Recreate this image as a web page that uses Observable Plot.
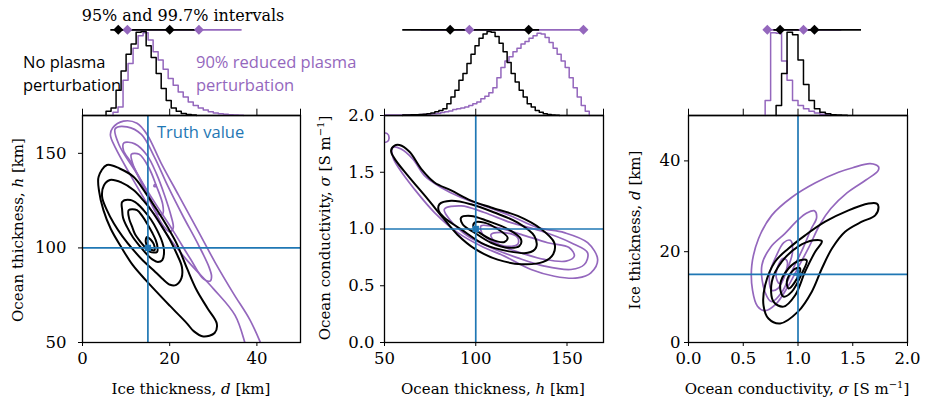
<!DOCTYPE html>
<html><head><meta charset="utf-8">
<script src="https://cdn.jsdelivr.net/npm/d3@7"></script>
<script src="https://cdn.jsdelivr.net/npm/@observablehq/plot@0.6"></script>
<style>
body{margin:0;background:#fff;}
#fig{position:relative;width:929px;height:405px;overflow:hidden;background:#fff;}
.lbl{position:absolute;white-space:nowrap;font-family:"DejaVu Serif",serif;font-size:15px;color:#000;transform:translate(-50%,-50%);}
.title{font-size:16px;}
.rot{transform:translate(-50%,-50%) rotate(-90deg);}
.sans{position:absolute;white-space:nowrap;font-family:"Open Sans",sans-serif;font-size:16.5px;line-height:23px;}
sup{font-size:10px;line-height:0;}
</style></head><body><div id="fig"></div>
<script>
// ---------- data ----------
// histograms: bin start, bin width, normalized heights
const h1BlackStart = 5.4, h1BlackWidth = 1.15;
const h1Black = [0.05,0.09,0.3,0.53,0.73,0.85,0.99,1.0,0.83,0.69,0.5,0.32,0.18,0.09,0.05,0.025,0.012,0.005];
const h1PurpleStart = 7.0, h1PurpleWidth = 1.15;
const h1Purple = [0.04,0.1,0.42,0.62,0.8,0.95,0.985,0.9,0.76,0.66,0.55,0.44,0.36,0.28,0.22,0.16,0.12,0.09,0.065,0.045,0.03,0.02,0.015,0.01,0.006,0.003];

const h2BlackStart = 60, h2BlackWidth = 2.2;
const h2Black = [0.005,0.005,0.008,0.01,0.012,0.015,0.02,0.03,0.045,0.06,0.08,0.14,0.22,0.3,0.42,0.5,0.62,0.73,0.83,0.92,0.97,1.0,0.99,0.94,0.86,0.76,0.63,0.5,0.4,0.3,0.22,0.14,0.1,0.06,0.04,0.02,0.012,0.006,0.003];
const h2PurpleStart = 50, h2PurpleWidth = 2.2;
const h2Purple = [0.005,0.005,0.005,0.006,0.006,0.007,0.008,0.009,0.01,0.012,0.014,0.017,0.02,0.025,0.035,0.045,0.055,0.07,0.08,0.09,0.1,0.12,0.14,0.16,0.2,0.23,0.27,0.33,0.45,0.57,0.65,0.7,0.76,0.8,0.85,0.88,0.92,0.95,0.98,0.97,0.93,0.87,0.8,0.73,0.65,0.57,0.45,0.33,0.22,0.12,0.05];

const h3BlackStart = 0.80, h3BlackWidth = 0.05;
const h3Black = [0.12,0.5,0.99,0.96,0.66,0.37,0.18,0.08,0.04,0.02,0.01,0.005,0.003];
const h3PurpleStart = 0.70, h3PurpleWidth = 0.05;
const h3Purple = [0.18,0.985,0.98,0.65,0.42,0.18,0.12,0.08,0.05,0.03,0.015,0.008];

// 95% (diamonds) and 99.7% (line) intervals
const i1BlackLine = [6.5, 26], i1BlackDiamonds = [8.2, 20.0];
const i1PurpleLine = [8, 36.6], i1PurpleDiamonds = [10.3, 26.7];
const i2BlackLine = [60, 135], i2BlackDiamonds = [86, 129];
const i2PurpleLine = [70, 159.5], i2PurpleDiamonds = [96.5, 159];
const i3BlackLine = [0.78, 1.58], i3BlackDiamonds = [0.837, 1.15];
const i3PurpleLine = [0.72, 1.4], i3PurpleDiamonds = [0.72, 1.05];

// truth values
const truth1 = [15, 100], truth2 = [100, 1.0], truth3 = [1.0, 15];

// contour lines [x, y]
const c1Black = [
  [[3.7,137.6],[5.6,143.8],[8.5,142],[11.7,137.6],[14.5,129],[17.1,120],[19.5,111],[21.6,102.3],[24,89],[26.2,77.6],[28.7,68],[30.8,60],[30.3,55],[27.7,53.2],[25.5,56],[24,60],[20,69.5],[14.5,83],[11.5,91],[9,100],[6.5,110],[4.8,120],[3.8,130]],
  [[6.3,135.9],[9,134.5],[11.7,130.6],[14,125],[16.3,118.2],[18.3,111],[20.1,104.1],[21.8,96],[22.8,89.9],[22.7,84],[21.5,80.5],[20.1,80.5],[18.2,84],[16.3,88.2],[13.8,93.5],[11.7,98.8],[9.2,106],[7.2,112.9],[5.6,120],[4.5,127],[4.9,133]],
  [[9.1,124.4],[11,125.3],[12.6,123.3],[14,120],[15.7,115],[17.1,109.4],[18.3,103],[18.7,98.8],[18.3,93.6],[17.3,92.6],[16.3,93.5],[14.8,96.5],[13.3,100.5],[11.6,105.5],[10.2,111.1],[9.3,116],[9.1,120]],
  [[10.6,120],[12.5,120],[13.8,116.5],[14.8,112.9],[16,108],[16.8,104.1],[17.2,100.5],[17.1,97.9],[15.5,97.9],[14.3,100.5],[13.3,103.2],[12,107.5],[11.4,111.1],[10.7,115.5]],
  [[14.8,105.8],[16.3,102.3],[16.5,98.8],[15.2,99.7],[14.5,103.2]]
];
const c1Purple = [
  [[6.4,159.7],[6.9,163.4],[9.4,167],[12.5,165.9],[14.8,160],[18,145],[22,128],[26.5,109],[30.5,92],[34.6,76],[38.4,62],[40.8,50],[42.5,40],[39,37],[37.5,48],[35,64.3],[30,78.5],[24.3,92.6],[20,105],[15.5,120.9],[11,138.5],[7.6,152.7]],
  [[7.5,163],[10.2,164],[13.5,160],[16.5,148],[19.5,133],[23,117],[26.5,102],[29,90],[29.6,85],[29.3,82.5],[27.8,83.5],[24.8,94],[20.8,109],[16.3,125],[12,141],[8.4,154.4]],
  [[9.5,155.5],[12,155],[14.8,149],[17,139],[18.8,128],[20.3,117],[20.8,110.5],[20,108.5],[18.6,111.5],[16.5,120],[14,132],[11.2,145],[9.4,151.5]],
  [[11.2,149.5],[13,149.5],[15.2,142.5],[16.9,133],[18.4,123],[18.4,118],[17.2,118],[15.6,126],[13.6,135],[11.6,144]],
  [[16.5,133.4],[16.9,133.1],[16.8,132.4],[16.4,132.6]]
];
const c2Black = [
  [[55.5,1.735],[58.2,1.74],[63.7,1.68],[70.1,1.53],[77.4,1.41],[86.5,1.34],[97.4,1.25],[108.4,1.19],[123,1.115],[135.8,1.0],[143,0.88],[142.5,0.78],[137,0.71],[125,0.69],[112,0.73],[100,0.82],[90,0.95],[82,1.1],[73.7,1.263],[62.8,1.47],[55.5,1.62],[53.6,1.69]],
  [[80.1,1.218],[86.5,1.248],[97.4,1.218],[110.2,1.145],[123,1.056],[132.1,0.938],[133,0.835],[128.5,0.79],[117.5,0.805],[104.7,0.864],[92,0.997],[82.8,1.1],[79.7,1.16]],
  [[92,1.1],[97.4,1.115],[106.6,1.07],[117.5,1.0],[124.8,0.909],[123.9,0.85],[117.5,0.835],[108.4,0.879],[99.3,0.968],[92.9,1.04]],
  [[99.3,1.056],[104.7,1.056],[112,1.0],[117.5,0.923],[115.7,0.885],[108.4,0.909],[102,0.968],[98.9,1.01]]
];
const c2Purple = [
  [[54.6,1.72],[59.1,1.705],[65.5,1.617],[71.9,1.47],[81,1.366],[92,1.277],[104.7,1.204],[119.3,1.115],[133.9,1.012],[148.5,0.968],[161.3,0.879],[166.8,0.73],[163.1,0.614],[155.8,0.569],[143.1,0.584],[130.3,0.643],[115.7,0.761],[102.9,0.85],[90.1,0.968],[77.4,1.145],[66.4,1.351],[58.2,1.528],[54.6,1.631]],
  [[82.8,1.174],[92,1.204],[104.7,1.145],[119.3,1.056],[135.8,0.982],[152.2,0.879],[161.3,0.79],[159.5,0.687],[152.2,0.643],[137.6,0.673],[123,0.746],[108.4,0.835],[95.6,0.938],[85.6,1.086]],
  [[102.9,1.027],[112,1.012],[124.8,0.953],[139.4,0.879],[151.3,0.835],[154,0.761],[149.5,0.717],[137.6,0.732],[124.8,0.79],[112,0.864],[103.8,0.953]],
  [[108.4,0.953],[115.7,0.968],[123,0.923],[123,0.864],[115.7,0.85],[110.2,0.894]],
  [[49.5,1.84],[51.5,1.84],[52.5,1.8],[51.5,1.77],[49.5,1.77]]
];
const c3Black = [
  [[1.735,29.9],[1.705,28],[1.583,26.6],[1.43,24.4],[1.31,20.7],[1.218,16.3],[1.126,11.2],[1.0,6.8],[0.837,4.2],[0.73,5.3],[0.685,8.2],[0.7,12.6],[0.79,17.8],[0.913,20.7],[1.065,23.6],[1.248,26.6],[1.461,29.1],[1.644,30.6],[1.72,30.6]],
  [[1.218,22.3],[1.157,20],[1.065,15.6],[0.974,10.4],[0.868,7.9],[0.776,9],[0.761,13.4],[0.852,17.8],[1.0,21.1],[1.142,22.5]],
  [[1.08,18.1],[1.035,15.2],[0.944,11.2],[0.868,10.1],[0.837,12.6],[0.913,16.3],[1.02,18.1]],
  [[1.02,16.3],[0.974,13.4],[0.913,11.9],[0.898,13.4],[0.944,15.6],[0.99,16.4]]
];
const c3Purple = [
  [[0.578,17],[0.585,11.5],[0.63,8],[0.7,7],[0.8,8.5],[0.9,12],[1.0,16.5],[1.1,21],[1.2,26],[1.3,29.5],[1.45,33],[1.62,35.8],[1.73,37.8],[1.735,38.7],[1.66,39.4],[1.5,38.5],[1.37,37.5],[1.16,35.2],[0.944,32],[0.76,28],[0.64,22.9]],
  [[0.67,17],[0.7,11],[0.76,9],[0.85,11],[0.95,16],[1.05,21],[1.12,25],[1.17,27.5],[1.15,29],[1.08,28.5],[1.0,27],[0.88,24],[0.75,21]],
  [[0.74,15],[0.76,11.5],[0.82,12],[0.9,16],[0.95,20],[0.93,22.5],[0.87,22],[0.8,19]],
  [[0.8,14.5],[0.83,13],[0.88,15],[0.9,18],[0.86,18.5],[0.82,17]]
];

// ticks
const t1x = [0,20,40], t1y = [50,100,150], t1hist = [0,20,40,50];
const t2x = [50,100,150], t2y = [0,0.5,1.0,1.5,2.0], t2hist = [50,100,150,170];
const t3x = [0,0.5,1.0,1.5,2.0], t3y = [0,20,40], t3hist = [0,0.5,1.0,1.5,2.0];

// ---------- drawing ----------
const BLACK = "#000000", PURPLE = "#9467bd", BLUE = "#1f77b4";
const SERIF = "DejaVu Serif";
const fig = document.getElementById("fig");
const STYLE = {background: "transparent", color: "#000", overflow: "visible"};

function place(svg, left, top) {
  svg.style.position = "absolute";
  svg.style.left = left + "px";
  svg.style.top = top + "px";
  svg.style.maxWidth = "none";
  fig.appendChild(svg);
}
function steps(start, width, values) {
  const pts = [[start, 0]];
  values.forEach((v, i) => pts.push([start + i * width, v]));
  pts.push([start + values.length * width, 0]);
  return pts;
}
const fx = d => d[0], fy = d => d[1];
const IY = 1.02;

function histPlot(p) {
  const marks = [
    Plot.line(steps(p.ps, p.pw, p.pv), {x: fx, y: fy, curve: "step-after", stroke: PURPLE, strokeWidth: 1.5}),
    Plot.line(steps(p.bs, p.bw, p.bv), {x: fx, y: fy, curve: "step-after", stroke: BLACK, strokeWidth: 1.5}),
    Plot.ruleY([0], {stroke: BLACK, strokeWidth: 1.3}),
    Plot.ruleX(p.ticks, {y1: 0, y2: 0.075, stroke: BLACK, strokeWidth: 1}),
    Plot.ruleY([IY], {x1: p.pl[0], x2: p.pl[1], stroke: PURPLE, strokeWidth: 1.8}),
    Plot.ruleY([IY], {x1: p.bl[0], x2: p.bl[1], stroke: BLACK, strokeWidth: 1.8}),
    Plot.dot(p.pd, {x: d => d, y: () => IY, symbol: "diamond2", r: 4.5, fill: PURPLE, stroke: "none"}),
    Plot.dot(p.bd, {x: d => d, y: () => IY, symbol: "diamond2", r: 4.5, fill: BLACK, stroke: "none"})
  ];
  return Plot.plot({
    width: p.w + 20, height: 116, marginLeft: 10, marginRight: 10, marginTop: 31, marginBottom: 1,
    x: {domain: p.xd, axis: null}, y: {domain: [0, 1], axis: null},
    style: STYLE, marks
  });
}

function contourPlot(p) {
  const marks = [];
  p.purple.forEach(c => marks.push(Plot.line(c, {x: fx, y: fy, curve: "catmull-rom-closed", stroke: PURPLE, strokeWidth: 1.7, clip: true})));
  p.black.forEach(c => marks.push(Plot.line(c, {x: fx, y: fy, curve: "catmull-rom-closed", stroke: BLACK, strokeWidth: 2, clip: true})));
  marks.push(Plot.ruleX([p.truth[0]], {stroke: BLUE, strokeWidth: 1.7}));
  marks.push(Plot.ruleY([p.truth[1]], {stroke: BLUE, strokeWidth: 1.7}));
  marks.push(Plot.dot([p.truth], {x: fx, y: fy, symbol: p.symbol, r: 3.6, fill: BLUE, stroke: "none"}));
  marks.push(Plot.frame({stroke: BLACK, strokeWidth: 1.3}));
  // tick labels
  marks.push(Plot.text(p.xt, {x: d => d, text: d => p.xf(d), frameAnchor: "bottom", dy: 21, fontSize: 16.5, fontFamily: SERIF, fill: BLACK}));
  marks.push(Plot.text(p.yt, {y: d => d, text: d => p.yf(d), frameAnchor: "left", dx: -p.ypad, textAnchor: "end", fontSize: 16.5, fontFamily: SERIF, fill: BLACK}));
  return Plot.plot({
    width: 82 + p.w + 6, height: 305, marginLeft: 82, marginRight: 6, marginTop: 15, marginBottom: 63,
    x: {domain: p.xd, ticks: p.xt, tickFormat: () => "", tickSize: 4, label: null},
    y: {domain: p.yd, ticks: p.yt, tickFormat: () => "", tickSize: 4, label: null},
    style: STYLE, marks
  });
}

const f1 = d3.format(".1f"), f0 = d3.format("d");
const panels = [
  {left: 82, w: 218, xd: [0, 50], yd: [50, 170], xt: t1x, yt: t1y, xf: f0, yf: f0, ypad: 16, truth: truth1, symbol: "square",
   black: c1Black, purple: c1Purple, ticks: t1hist,
   bs: h1BlackStart, bw: h1BlackWidth, bv: h1Black, ps: h1PurpleStart, pw: h1PurpleWidth, pv: h1Purple,
   bl: i1BlackLine, bd: i1BlackDiamonds, pl: i1PurpleLine, pd: i1PurpleDiamonds},
  {left: 384, w: 219, xd: [50, 170], yd: [0, 2], xt: t2x, yt: t2y, xf: f0, yf: f1, ypad: 10, truth: truth2, symbol: "square",
   black: c2Black, purple: c2Purple, ticks: t2hist,
   bs: h2BlackStart, bw: h2BlackWidth, bv: h2Black, ps: h2PurpleStart, pw: h2PurpleWidth, pv: h2Purple,
   bl: i2BlackLine, bd: i2BlackDiamonds, pl: i2PurpleLine, pd: i2PurpleDiamonds},
  {left: 688, w: 219, xd: [0, 2], yd: [0, 50], xt: t3x, yt: t3y, xf: f1, yf: f0, ypad: 8, truth: truth3, symbol: "cross",
   black: c3Black, purple: c3Purple, ticks: t3hist,
   bs: h3BlackStart, bw: h3BlackWidth, bv: h3Black, ps: h3PurpleStart, pw: h3PurpleWidth, pv: h3Purple,
   bl: i3BlackLine, bd: i3BlackDiamonds, pl: i3PurpleLine, pd: i3PurpleDiamonds}
];
panels.forEach(p => {
  place(contourPlot(p), p.left - 82, 100);
  place(histPlot(p), p.left - 10, 0);
});

// ---------- texts ----------
function addLabel(html, x, y, cls, color) {
  const d = document.createElement("div");
  d.className = cls;
  d.innerHTML = html;
  d.style.left = x + "px";
  d.style.top = y + "px";
  if (color) d.style.color = color;
  fig.appendChild(d);
}
addLabel("95% and 99.7% intervals", 183, 15, "lbl title");
addLabel("Ice thickness, <i>d</i> [km]", 191, 389, "lbl");
addLabel("Ocean thickness, <i>h</i> [km]", 18, 230, "lbl rot");
addLabel("Ocean thickness, <i>h</i> [km]", 493, 389, "lbl");
addLabel("Ocean conductivity, <i>σ</i> [S m<sup>−1</sup>]", 325, 228, "lbl rot");
addLabel("Ocean conductivity, <i>σ</i> [S m<sup>−1</sup>]", 797, 389, "lbl");
addLabel("Ice thickness, <i>d</i> [km]", 635, 230, "lbl rot");
addLabel("No plasma<br>perturbation", 23, 50, "sans", BLACK);
addLabel("90% reduced plasma<br>perturbation", 196, 50, "sans", PURPLE);
addLabel("Truth value", 157, 120, "sans", BLUE);
</script>
</body></html>
